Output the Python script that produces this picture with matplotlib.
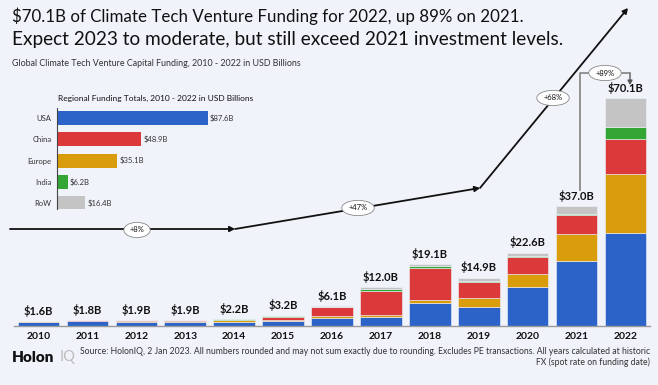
import matplotlib
matplotlib.use("Agg")
import matplotlib.pyplot as plt
import numpy as np

# ---------------- data ----------------
years = ["2010", "2011", "2012", "2013", "2014", "2015", "2016",
         "2017", "2018", "2019", "2020", "2021", "2022"]
totals = [1.6, 1.8, 1.9, 1.9, 2.2, 3.2, 6.1, 12.0, 19.1, 14.9, 22.6, 37.0, 70.1]
usa    = [1.3, 1.4, 1.2, 1.2, 1.3, 1.6, 2.5, 2.7, 7.0, 6.0, 12.0, 20.0, 28.7]
europe = [0.1, 0.2, 0.3, 0.3, 0.5, 0.3, 0.6, 0.6, 1.0, 2.6, 3.9, 8.2, 18.0]
china  = [0.1, 0.1, 0.2, 0.2, 0.2, 1.0, 2.6, 7.5, 9.8, 5.0, 5.4, 5.9, 10.8]
india  = [0.05, 0.05, 0.1, 0.1, 0.1, 0.1, 0.2, 0.7, 0.7, 0.3, 0.3, 0.5, 3.6]
row    = [0.05, 0.05, 0.1, 0.1, 0.1, 0.2, 0.2, 0.5, 0.6, 1.0, 1.0, 2.2, 9.1]

regions = ["USA", "China", "Europe", "India", "RoW"]
region_totals = [87.6, 48.9, 35.1, 6.2, 16.4]

growth_labels = ["+8%", "+47%", "+68%"]
yoy_label = "+89%"

# ---------------- style ----------------
BG = "#F0F3FA"
C_USA, C_CHN, C_EUR, C_IND, C_ROW = "#2B63C9", "#DC3A3A", "#D99D0C", "#33A633", "#C4C4C4"
FONT = ["Lato", "DejaVu Sans"]
plt.rcParams["font.family"] = FONT

W, H = 658, 385
fig = plt.figure(figsize=(W / 100, H / 100), dpi=100, facecolor=BG)

def fx(px):
    return px / W

def fy(py):
    return 1 - py / H

# ---------------- main stacked bars ----------------
ax = fig.add_axes([fx(14), fy(326), fx(650) - fx(14), fy(60) - fy(326)])
ax.set_facecolor("none")
x = np.arange(len(years))
bw = 0.85
bottom = np.zeros(len(years))
for vals, col in [(usa, C_USA), (europe, C_EUR), (china, C_CHN), (india, C_IND), (row, C_ROW)]:
    ax.bar(x, vals, bw, bottom=bottom, color=col, edgecolor=BG, linewidth=0.4)
    bottom += np.array(vals)

ax.set_xlim(-0.5, 12.5)
ax.set_ylim(0, (326 - 60) / 3.25)
for s in ["top", "right", "left"]:
    ax.spines[s].set_visible(False)
ax.spines["bottom"].set_color("#9A9A9A")
ax.spines["bottom"].set_linewidth(1.0)
ax.set_yticks([])
ax.set_xticks(x)
ax.set_xticklabels(years, fontsize=7.5, fontweight="bold", color="#111111")
ax.tick_params(axis="x", length=0, pad=4)

for i, t in enumerate(totals):
    ax.text(x[i], bottom[i] + 1.3, f"${t:.1f}B", ha="center", va="bottom",
            fontsize=8, fontweight="bold", color="#111111")

# ---------------- inset horizontal bars ----------------
axi = fig.add_axes([fx(57), fy(209), fx(229) - fx(57), fy(108) - fy(209)])
axi.set_facecolor("none")
yy = np.arange(len(regions))
axi.barh(yy, region_totals, height=0.66, color=[C_USA, C_CHN, C_EUR, C_IND, C_ROW])
axi.set_xlim(0, 100)
axi.set_ylim(4.28, -0.47)
for s in ["top", "right", "bottom"]:
    axi.spines[s].set_visible(False)
axi.spines["left"].set_color("#444444")
axi.spines["left"].set_linewidth(0.8)
axi.set_xticks([])
axi.set_yticks(yy)
axi.set_yticklabels(regions, fontsize=5.5, color="#333333")
axi.tick_params(axis="y", length=0, pad=4)
for i, v in enumerate(region_totals):
    axi.text(v + 1.2, yy[i], f"${v:.1f}B", va="center", ha="left", fontsize=5.5, color="#333333")
fig.text(fx(58), fy(98), "Regional Funding Totals, 2010 - 2022 in USD Billions",
         fontsize=6, color="#111111", va="center", ha="left")

# ---------------- titles ----------------
fig.text(fx(12), fy(16), "$70.1B of Climate Tech Venture Funding for 2022, up 89% on 2021.",
         fontsize=12.2, color="#111111", va="center", ha="left")
fig.text(fx(12), fy(39), "Expect 2023 to moderate, but still exceed 2021 investment levels.",
         fontsize=13.7, color="#111111", va="center", ha="left")
fig.text(fx(12), fy(63), "Global Climate Tech Venture Capital Funding, 2010 - 2022 in USD Billions",
         fontsize=6.4, color="#333333", va="center", ha="left")

# ---------------- trend arrows ----------------
pts = [(10, 229), (235, 229), (480, 188), (628, 8)]
for (x0, y0), (x1, y1) in zip(pts[:-1], pts[1:]):
    fig.add_artist(matplotlib.patches.FancyArrowPatch(
        (fx(x0), fy(y0)), (fx(x1), fy(y1)), transform=fig.transFigure,
        arrowstyle="-|>,head_length=3,head_width=1.6", color="#111111",
        linewidth=1.3, shrinkA=0, shrinkB=0))

lbl_pos = [(137, 230), (358, 208), (553, 98)]
for lab, (px, py) in zip(growth_labels, lbl_pos):
    fig.text(fx(px), fy(py), lab, fontsize=5.5, ha="center", va="center", color="#111111",
             bbox=dict(boxstyle="ellipse,pad=0.25", fc="white", ec="#888888", lw=0.6))

# +89% bracket from 2021 to 2022
bx0, bx1, btop = 580, 630, 73
fig.add_artist(matplotlib.lines.Line2D([fx(bx0), fx(bx0), fx(bx1)], [fy(190), fy(btop), fy(btop)],
                                       transform=fig.transFigure, color="#8A8A8A", lw=1.3))
fig.add_artist(matplotlib.patches.FancyArrowPatch(
    (fx(bx1), fy(btop)), (fx(bx1), fy(85)), transform=fig.transFigure,
    arrowstyle="-|>,head_length=2.5,head_width=1.4", color="#555555", linewidth=1.0,
    shrinkA=0, shrinkB=0))
fig.text(fx(605), fy(73), yoy_label, fontsize=5.5, ha="center", va="center", color="#111111",
         bbox=dict(boxstyle="ellipse,pad=0.25", fc="white", ec="#888888", lw=0.6))

# ---------------- footer ----------------
fig.text(fx(12), fy(357), "Holon", fontsize=11, fontweight="heavy", color="#111111",
         va="center", ha="left")
fig.text(fx(60), fy(357), "IQ", fontsize=10.5, color="#BDBDBD",
         va="center", ha="left")
fig.text(fx(650), fy(352),
         "Source: HolonIQ, 2 Jan 2023. All numbers rounded and may not sum exactly due to rounding. "
         "Excludes PE transactions. All years calculated at historic",
         fontsize=6.2, color="#333333", ha="right", va="center")
fig.text(fx(650), fy(362), "FX (spot rate on funding date)",
         fontsize=6.2, color="#333333", ha="right", va="center")

fig.savefig("out.png", dpi=100, facecolor=BG)
